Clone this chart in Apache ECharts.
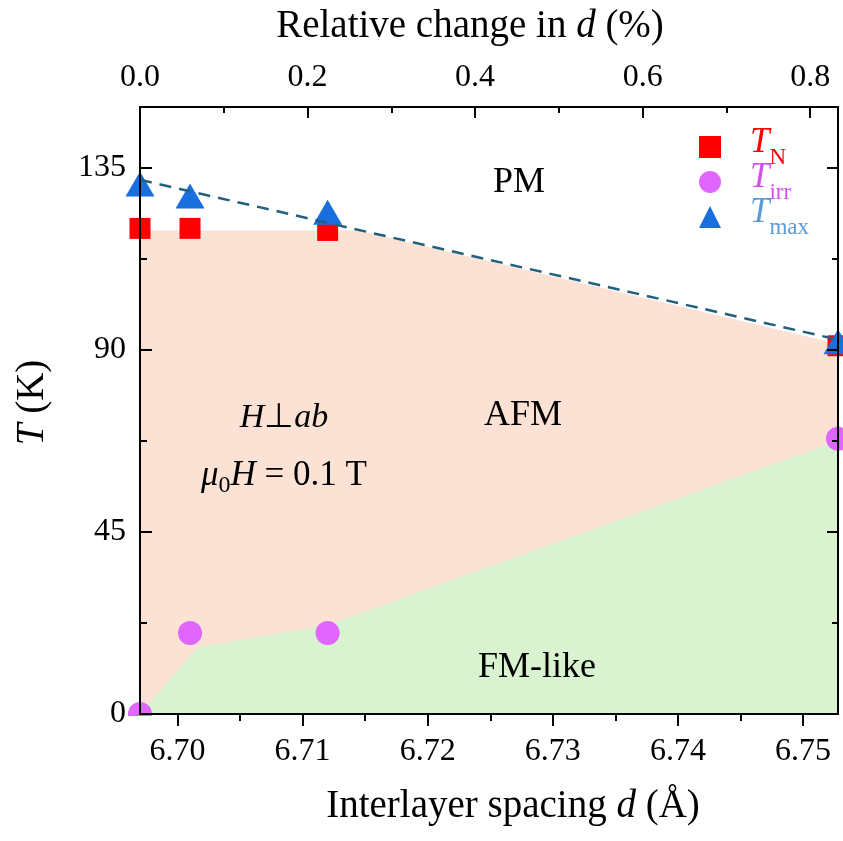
<!DOCTYPE html>
<html><head><meta charset="utf-8">
<script src="https://cdn.jsdelivr.net/npm/echarts@6/dist/echarts.min.js"></script>
<style>html,body{margin:0;padding:0;background:#fff}#c{width:843px;height:841px}</style>
</head><body><div id="c"></div>
<script>
// ---- data ----
const dX   = [6.697, 6.701, 6.712, 6.7528];
const tN   = [120, 120, 119.5, 91];
const tIrr = [0, 20, 20, 68];
const tMax = [131, 128, 124, 92];
const fitX = [6.697, 6.7528];
const fitY = [132, 92.5];
const afmX = [6.697, 6.7145, 6.7528];
const afmY = [119.5, 119.5, 91.5];
const fmX  = [6.697, 6.7016, 6.712, 6.7528];
const fmY  = [0, 16.5, 22, 67.5];
const xTicks   = [6.70, 6.71, 6.72, 6.73, 6.74, 6.75];
const xMinor   = [6.705, 6.715, 6.725, 6.735, 6.745];
const topTicks = [0, 0.2, 0.4, 0.6, 0.8];
const topMinor = [0.1, 0.3, 0.5, 0.7];
const yTicks   = [0, 45, 90, 135];
const yMinor   = [22.5, 67.5, 112.5];
const xMin = 6.697, xMax = 6.7528, topMin = 0, topMax = 0.8332, yMin = 0, yMax = 150;

const FONT = '"Liberation Serif", "Times New Roman", serif';
const pair = (xs, ys) => xs.map((x, i) => [x, ys[i]]);

function axis(o) {
  return Object.assign({
    type: 'value', z: 20, splitLine: { show: false },
    axisLine: { show: false, onZero: false, lineStyle: { color: '#000', width: 2 } },
    axisTick: { show: true, length: 12, lineStyle: { color: '#000', width: 2 } },
    axisLabel: { show: false, fontSize: 32, fontFamily: FONT, color: '#000' }
  }, o);
}
const lineOn = { show: true, onZero: false, lineStyle: { color: '#000', width: 2 } };
const titleStyle = (pad) => ({ fontSize: 39, fontFamily: FONT, color: '#000', padding: pad,
  rich: { i: { fontSize: 39, fontFamily: FONT, fontStyle: 'italic', color: '#000' } } });

const chart = echarts.init(document.getElementById('c'), null, { renderer: 'canvas' });
chart.setOption({
  animation: false,
  backgroundColor: '#fff',
  grid: { left: 140, right: 5, top: 107, bottom: 127, containLabel: false, outerBoundsMode: 'none' },
  xAxis: [
    axis({ position: 'bottom', min: xMin, max: xMax, axisLine: lineOn,
      axisTick: { show: true, inside: false, length: 12, customValues: xTicks, lineStyle: { color: '#000', width: 2 } },
      axisLabel: { show: true, customValues: xTicks, formatter: v => v.toFixed(2), fontSize: 32, fontFamily: FONT, color: '#000', margin: 22 },
      name: 'Interlayer spacing {i|d} (Å)', nameLocation: 'middle', nameGap: 73,
      nameTextStyle: titleStyle([0, 0, 0, 48]) }),
    axis({ position: 'bottom', min: xMin, max: xMax,
      axisTick: { show: true, inside: false, length: 7, customValues: xMinor, lineStyle: { color: '#000', width: 2 } } }),
    axis({ position: 'top', min: topMin, max: topMax, axisLine: lineOn,
      axisTick: { show: true, inside: true, length: 11, customValues: topTicks, lineStyle: { color: '#000', width: 2 } },
      axisLabel: { show: true, customValues: topTicks, formatter: v => v.toFixed(1), fontSize: 32, fontFamily: FONT, color: '#000', margin: 13 },
      name: 'Relative change in {i|d} (%)', nameLocation: 'middle', nameGap: 61,
      nameTextStyle: titleStyle([0, 38, 0, 0]) }),
    axis({ position: 'top', min: topMin, max: topMax,
      axisTick: { show: true, inside: true, length: 6, customValues: topMinor, lineStyle: { color: '#000', width: 2 } } })
  ],
  yAxis: [
    axis({ position: 'left', min: yMin, max: yMax, axisLine: lineOn,
      axisTick: { show: true, inside: true, length: 12, customValues: yTicks, lineStyle: { color: '#000', width: 2 } },
      axisLabel: { show: true, customValues: yTicks, fontSize: 32, fontFamily: FONT, color: '#000', margin: 14 },
      name: '{i|T} (K)', nameLocation: 'middle', nameGap: 88, nameRotate: 90,
      nameTextStyle: titleStyle([0, 0, 0, 16]) }),
    axis({ position: 'left', min: yMin, max: yMax,
      axisTick: { show: true, inside: true, length: 7, customValues: yMinor, lineStyle: { color: '#000', width: 2 } } }),
    axis({ position: 'right', min: yMin, max: yMax, axisLine: lineOn,
      axisTick: { show: true, inside: true, length: 11, customValues: yTicks, lineStyle: { color: '#000', width: 2 } } }),
    axis({ position: 'right', min: yMin, max: yMax,
      axisTick: { show: true, inside: true, length: 6, customValues: yMinor, lineStyle: { color: '#000', width: 2 } } })
  ],
  legend: {
    orient: 'vertical', left: 699, top: 125, padding: 0, itemGap: -9,
    itemWidth: 22, itemHeight: 22,
    data: ['TN', 'Tirr', 'Tmax'],
    formatter: n => ({ TN: '{a|T}{as|N}', Tirr: '{b|T}{bs|irr}', Tmax: '{c|T}{cs|max}' })[n],
    textStyle: {
      fontFamily: FONT,
      rich: {
        a:  { fontSize: 35, fontStyle: 'italic', fontFamily: FONT, color: '#FF0000', lineHeight: 20, verticalAlign: 'top', padding: [0, 0, 0, 24] },
        as: { fontSize: 23, fontFamily: FONT, color: '#FF0000', lineHeight: 44, verticalAlign: 'bottom' },
        b:  { fontSize: 35, fontStyle: 'italic', fontFamily: FONT, color: '#D64DF2', lineHeight: 20, verticalAlign: 'top', padding: [0, 0, 0, 24] },
        bs: { fontSize: 23, fontFamily: FONT, color: '#D64DF2', lineHeight: 44, verticalAlign: 'bottom' },
        c:  { fontSize: 35, fontStyle: 'italic', fontFamily: FONT, color: '#5B9BD5', lineHeight: 20, verticalAlign: 'top', padding: [0, 0, 0, 24] },
        cs: { fontSize: 23, fontFamily: FONT, color: '#5B9BD5', lineHeight: 44, verticalAlign: 'bottom' }
      }
    }
  },
  graphic: [
    { type: 'rect', z: 10, silent: true, shape: { x: 120, y: 716, width: 45, height: 18 }, style: { fill: '#fff' } },
    { type: 'text', z: 30, x: 519, y: 183, style: { text: 'PM', fontSize: 36, fontFamily: FONT, fill: '#000', align: 'center', verticalAlign: 'middle' } },
    { type: 'text', z: 30, x: 523, y: 416, style: { text: 'AFM', fontSize: 36, fontFamily: FONT, fill: '#000', align: 'center', verticalAlign: 'middle' } },
    { type: 'text', z: 30, x: 537, y: 668, style: { text: 'FM-like', fontSize: 36, fontFamily: FONT, fill: '#000', align: 'center', verticalAlign: 'middle' } },
    { type: 'text', z: 30, x: 284, y: 418, style: { text: '{i|H}⊥{i|ab}', fontSize: 34, fontFamily: FONT, fill: '#000', align: 'center', verticalAlign: 'middle',
        rich: { i: { fontSize: 34, fontFamily: FONT, fontStyle: 'italic', fill: '#000' } } } },
    { type: 'text', z: 30, x: 284, y: 478, style: { text: '{i|μ}{s|0}{i|H}{n| = 0.1 T}', fontSize: 35, fontFamily: FONT, fill: '#000', align: 'center', verticalAlign: 'middle',
        rich: { i: { fontSize: 35, fontFamily: FONT, fontStyle: 'italic', fill: '#000', lineHeight: 20, verticalAlign: 'top' },
                n: { fontSize: 35, fontFamily: FONT, fill: '#000', lineHeight: 20, verticalAlign: 'top' },
                s: { fontSize: 24, fontFamily: FONT, fill: '#000', lineHeight: 40, verticalAlign: 'bottom' } } } }
  ],
  series: [
    { type: 'line', name: 'AFM', data: pair(afmX, afmY), symbol: 'none', silent: true, z: 1,
      lineStyle: { width: 0 }, areaStyle: { color: '#FBE2D5', opacity: 1 } },
    { type: 'line', name: 'FM', data: pair(fmX, fmY), symbol: 'none', silent: true, z: 1,
      lineStyle: { width: 0 }, areaStyle: { color: '#D9F2D0', opacity: 1 } },
    { type: 'scatter', name: 'TN', data: pair(dX, tN), symbol: 'rect', symbolSize: 21, clip: false, z: 3,
      itemStyle: { color: '#FF0000', opacity: 1 } },
    { type: 'scatter', name: 'Tirr', data: pair(dX, tIrr), symbol: 'circle', symbolSize: 24, clip: false, z: 3,
      itemStyle: { color: '#E066FF', opacity: 1 } },
    { type: 'scatter', name: 'Tmax', data: pair(dX, tMax), symbol: 'triangle', symbolSize: [29, 25], clip: false, z: 3,
      itemStyle: { color: '#1A6FDF', opacity: 1 } },
    { type: 'line', name: 'fit', data: pair(fitX, fitY), symbol: 'none', silent: true, z: 4,
      lineStyle: { color: '#22607F', width: 2.5, type: [12, 8] } }
  ]
});
</script></body></html>
